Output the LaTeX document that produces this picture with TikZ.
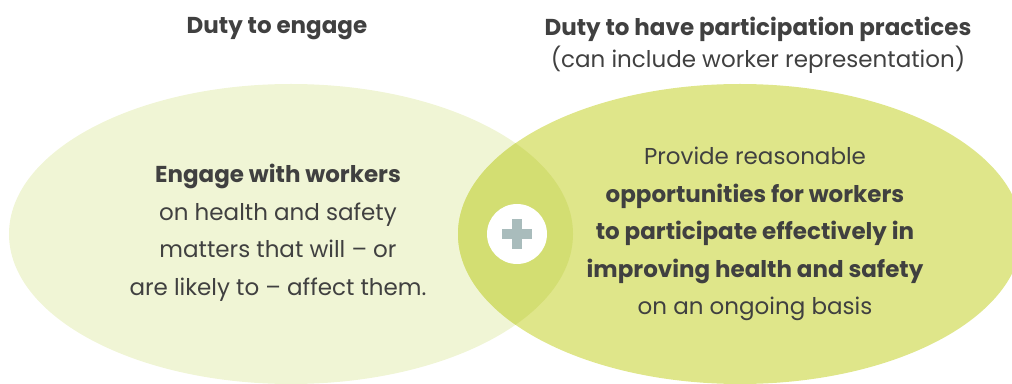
\documentclass[tikz,border=0pt]{standalone}
\usepackage{fontspec}
\setmainfont{Poppins}
\usetikzlibrary{calc}
\definecolor{leftfill}{HTML}{F0F5D5}
\definecolor{rightfill}{HTML}{DFE68A}
\definecolor{lensfill}{HTML}{D3DE72}
\definecolor{txt}{HTML}{404040}
\definecolor{plusc}{HTML}{A9BCBC}
\begin{document}
\begin{tikzpicture}[x=1pt,y=1pt,
  body/.style={align=center, text=txt, font=\fontsize{23}{37.5}\selectfont, inner sep=0pt},
  head/.style={align=center, text=txt, font=\fontsize{23}{32}\selectfont, inner sep=0pt}]
\useasboundingbox (0,0) rectangle (1012,383);
\clip (0,0) rectangle (1012,383);
% ellipses
\fill[leftfill] (291,149) ellipse [x radius=282, y radius=150];
\fill[rightfill] (740,149) ellipse [x radius=282, y radius=150];
\begin{scope}
  \clip (291,149) ellipse [x radius=282, y radius=150];
  \fill[lensfill] (740,149) ellipse [x radius=282, y radius=150];
\end{scope}
% plus
\node[circle, fill=white, minimum size=60pt, inner sep=0pt] (plus) at (517,149) {};
\fill[plusc] ($(plus.center)+(-15,-5)$) rectangle ($(plus.center)+(15,5)$);
\fill[plusc] ($(plus.center)+(-5,-15)$) rectangle ($(plus.center)+(5,15)$);
% headers
\node[head] (h1) at (277,354) {\textbf{Duty to engage}};
\node[head] (h2) at (758,338) {\textbf{Duty to have participation practices}\\(can include worker representation)};
% body
\node[body] (lt) at (278,150) {\textbf{Engage with workers}\\on health and safety\\matters that will -- or\\are likely to -- affect them.};
\node[body] (rt) at (755,149) {Provide reasonable\\\textbf{opportunities for workers}\\\textbf{to participate effectively in}\\\textbf{improving health and safety}\\on an ongoing basis};
\end{tikzpicture}
\end{document}
